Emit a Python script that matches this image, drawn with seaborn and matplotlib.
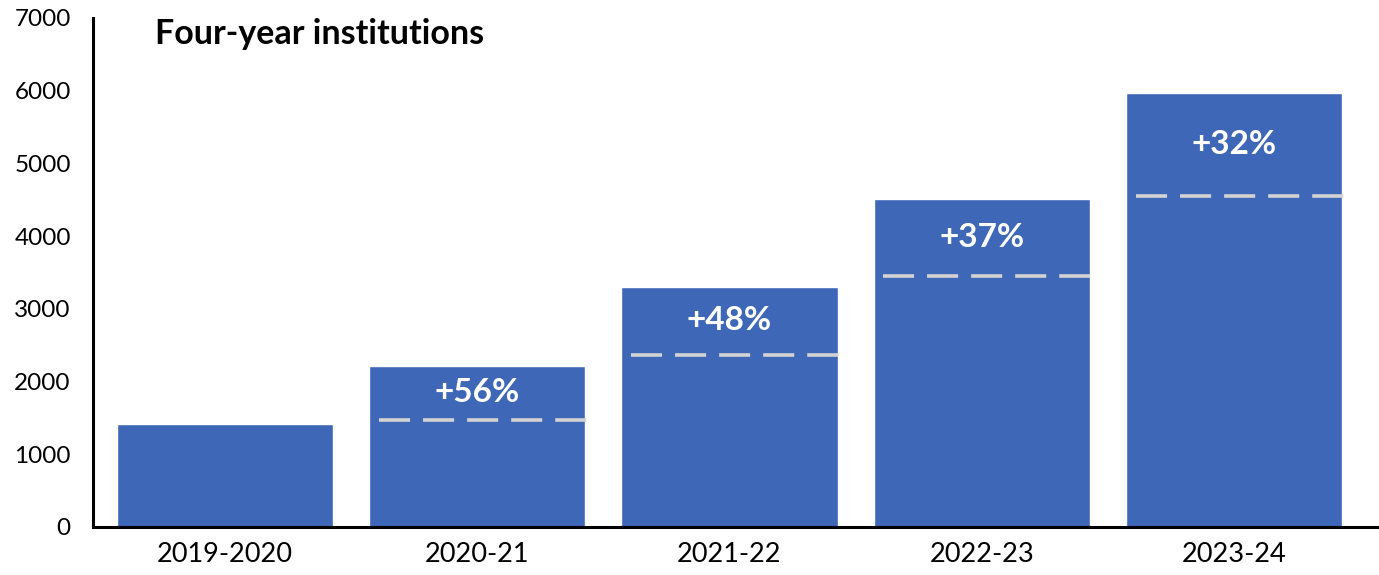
import pandas as pd
import matplotlib.pyplot as plt
import seaborn as sns

# values
years = ["2019-2020", "2020-21", "2021-22", "2022-23", "2023-24"]
counts = [1417, 2215, 3301, 4512, 5970]
# dashed marker showing the previous year's level (none for the first year)
prev_level = [None, 1472, 2366, 3452, 4553]
growth = [None, "+56%", "+48%", "+37%", "+32%"]
y_ticks = [0, 1000, 2000, 3000, 4000, 5000, 6000, 7000]

bar_color = "#3F67B7"

sns.set_theme(style="white")
plt.rcParams["font.family"] = ["Lato", "DejaVu Sans"]

df = pd.DataFrame({"year": years, "count": counts})

fig = plt.figure(figsize=(13.79, 5.75), dpi=100)
ax = fig.add_axes([0.0675, 0.0835, 0.9325, 0.8852])

sns.barplot(data=df, x="year", y="count", color=bar_color, saturation=1,
            width=0.857, ax=ax)

# previous-year level lines and growth labels
for i, (lvl, lab) in enumerate(zip(prev_level, growth)):
    if lvl is None:
        continue
    ax.hlines(lvl, i - 0.39, i + 0.44, colors="#D3D3D3", linewidth=2.6,
              linestyles=(0, (8.6, 3.6)))
    ax.text(i, (lvl + counts[i]) / 2, lab, ha="center", va="center",
            color="white", fontsize=24, fontweight="bold")

ax.set_ylim(0, 7000)
ax.set_xlim(-0.523, 4.575)
ax.set_yticks(y_ticks)
ax.set_yticklabels([str(t) for t in y_ticks])
ax.set_xlabel("")
ax.set_ylabel("")
ax.tick_params(axis="y", length=0, pad=16, labelsize=17.5, labelcolor="black")
ax.tick_params(axis="x", length=0, pad=11, labelsize=19.5, labelcolor="black")

for side in ["top", "right"]:
    ax.spines[side].set_visible(False)
ax.spines["left"].set_color("black")
ax.spines["left"].set_linewidth(2.2)
ax.spines["bottom"].set_color("black")
ax.spines["bottom"].set_linewidth(2.2)

ax.text(0.048, 1.0, "Four-year institutions", transform=ax.transAxes,
        ha="left", va="top", fontsize=24.5, fontweight="bold", color="black")

fig.savefig("out.png", dpi=100)
plt.close(fig)
